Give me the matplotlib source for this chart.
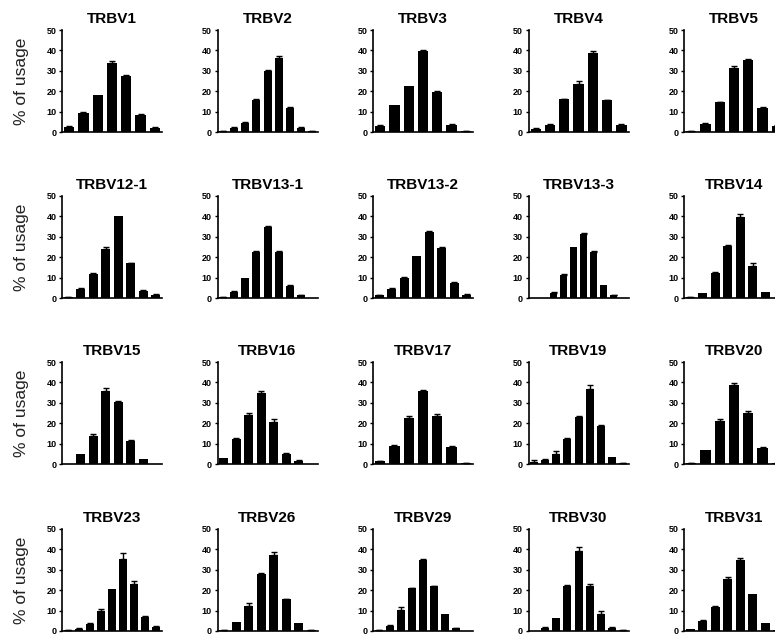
import numpy as np
import matplotlib
matplotlib.use("Agg")
from matplotlib import pyplot as plt

plt.rcParams['font.family'] = ['Liberation Sans', 'DejaVu Sans']

# % of usage per slot (mean) and upper error, one pair per panel
trbv1 = [2.5, 9.5, 18, 34, 27.5, 8.5, 2]
trbv1_err = [0.3, 0.5, 0, 0.6, 0.3, 0.5, 0.3]
trbv2 = [0.5, 2, 4.5, 15.5, 30, 36.5, 12, 2, 0.5]
trbv2_err = [0.2, 0.3, 0.5, 0.6, 0.3, 0.6, 0.5, 0.3, 0.2]
trbv3 = [3, 13, 22.5, 39.5, 19.5, 3.5, 0.5]
trbv3_err = [0.4, 0, 0, 0.5, 0.4, 0.4, 0.1]
trbv4 = [1.5, 3.5, 16, 23.5, 38.5, 15.5, 3.5]
trbv4_err = [0.3, 0.3, 0.4, 1.5, 1, 0.4, 0.3]
trbv5 = [0.5, 4, 14.5, 31.5, 35.5, 12, 3]
trbv5_err = [0.2, 0.4, 0.4, 1, 0.5, 0.3, 0.3]

trbv12_1 = [0.5, 4.5, 12, 24, 40, 17, 3.5, 1.5]
trbv12_1_err = [0.1, 0.4, 0.4, 0.9, 0, 0.4, 0.2, 0.3]
trbv13_1 = [0.5, 3, 10, 22.5, 35, 22.5, 6, 1.5, 0]
trbv13_1_err = [0.2, 0.4, 0, 0.4, 0.4, 0.4, 0.4, 0.1, 0]
trbv13_2 = [1.5, 4.5, 10, 20.5, 32.5, 24.5, 7.5, 1.5]
trbv13_2_err = [0.1, 0.3, 0.4, 0, 0.4, 0.4, 0.4, 0.3]
trbv13_3 = [0, 0, 2.5, 11.5, 25, 31.5, 22.5, 6.5, 1.5, 0]
trbv13_3_err = [0, 0, 0.3, 0.3, 0, 0.5, 0.4, 0, 0.1, 0]
trbv14 = [0.5, 2.5, 12.5, 25.5, 39.5, 15.5, 3, 0]
trbv14_err = [0.1, 0, 0.4, 0.4, 1.5, 1.5, 0, 0]

trbv15 = [0, 5, 13.5, 36, 30.5, 11.5, 2.5, 0]
trbv15_err = [0, 0, 1, 1.5, 0.4, 0.3, 0, 0]
trbv16 = [3, 12.5, 24, 35, 20.5, 5, 1.5, 0]
trbv16_err = [0, 0.3, 1, 1, 1.5, 0.4, 0.3, 0]
trbv17 = [1.5, 9, 22.5, 36, 23.5, 8.5, 0.5]
trbv17_err = [0.2, 0.3, 1.2, 0.3, 1.2, 0.3, 0.1]
trbv19 = [1, 2, 5, 12.5, 23, 37, 18.5, 3.5, 0.5]
trbv19_err = [1, 0.3, 1.2, 0.3, 0.4, 1.5, 0.4, 0, 0.1]
trbv20 = [0.5, 7, 21, 38.5, 25, 8, 0.5]
trbv20_err = [0.1, 0, 1, 1, 1, 0.4, 0.1]

trbv23 = [0.5, 1, 3.5, 10, 20.5, 35.5, 23, 7, 2]
trbv23_err = [0.1, 0.3, 0.4, 1, 0, 2.5, 1.5, 0.3, 0.4]
trbv26 = [0.5, 4.5, 12.5, 28, 37.5, 15.5, 4, 0.5]
trbv26_err = [0.1, 0, 1, 0.3, 1, 0.2, 0, 0.1]
trbv29 = [0.5, 2.5, 10.5, 21, 35, 22, 8.5, 1.5, 0]
trbv29_err = [0.1, 0.2, 1.2, 0.3, 0.3, 0.3, 0, 0.2, 0]
trbv30 = [0, 1.5, 6.5, 22, 39, 22, 8.5, 1.5, 0.5]
trbv30_err = [0, 0.3, 0, 0.4, 2, 1, 1.2, 0.3, 0.1]
trbv31 = [1, 5, 12, 25.5, 35, 18, 4, 0.5]
trbv31_err = [0, 0.4, 0.4, 1, 0.8, 0, 0, 0]

titles = ["TRBV1", "TRBV2", "TRBV3", "TRBV4", "TRBV5",
          "TRBV12-1", "TRBV13-1", "TRBV13-2", "TRBV13-3", "TRBV14",
          "TRBV15", "TRBV16", "TRBV17", "TRBV19", "TRBV20",
          "TRBV23", "TRBV26", "TRBV29", "TRBV30", "TRBV31"]
values = [trbv1, trbv2, trbv3, trbv4, trbv5,
          trbv12_1, trbv13_1, trbv13_2, trbv13_3, trbv14,
          trbv15, trbv16, trbv17, trbv19, trbv20,
          trbv23, trbv26, trbv29, trbv30, trbv31]
errors = [trbv1_err, trbv2_err, trbv3_err, trbv4_err, trbv5_err,
          trbv12_1_err, trbv13_1_err, trbv13_2_err, trbv13_3_err, trbv14_err,
          trbv15_err, trbv16_err, trbv17_err, trbv19_err, trbv20_err,
          trbv23_err, trbv26_err, trbv29_err, trbv30_err, trbv31_err]

W, H = 775, 635
fig = plt.figure(figsize=(W / 100, H / 100), dpi=100)

col_left = [62, 217.5, 373, 528.5, 684]   # px
row_top = [30, 196, 362, 529]             # px
ax_w, ax_h = 100, 102

for k in range(20):
       r, c = divmod(k, 5)
       left = col_left[c] / W
       bottom = (H - row_top[r] - ax_h) / H
       ax = fig.add_axes([left, bottom, ax_w / W, ax_h / H])
       v = np.array(values[k])
       e = np.array(errors[k])
       x = np.arange(len(v))
       ax.bar(x, v, width=0.72, color='black', linewidth=0)
       m = e > 0
       ax.errorbar(x[m], v[m], yerr=[np.zeros(m.sum()), e[m]], fmt='none',
                   ecolor='black', elinewidth=1, capsize=2.2, capthick=1)
       ax.set_xlim(-0.5, len(v) - 0.5)
       ax.set_ylim(0, 50)
       ax.set_yticks([0, 10, 20, 30, 40, 50])
       ax.set_xticks([])
       for s in ['top', 'right']:
              ax.spines[s].set_visible(False)
       for s in ['left', 'bottom']:
              ax.spines[s].set_linewidth(1.2)
       ax.tick_params(axis='y', length=2.5, width=1, pad=1.5, labelsize=6.5)
       for lab in ax.get_yticklabels():
              lab.set_fontweight('bold')
       ax.set_title(titles[k], fontsize=11, fontweight='bold', pad=5)
       if c == 0:
              fig.text(22 / W, (H - row_top[r] - ax_h / 2) / H, "% of usage",
                       rotation=90, ha='center', va='center', fontsize=12.5, color='#222222')

fig.savefig("out.png", dpi=100)
